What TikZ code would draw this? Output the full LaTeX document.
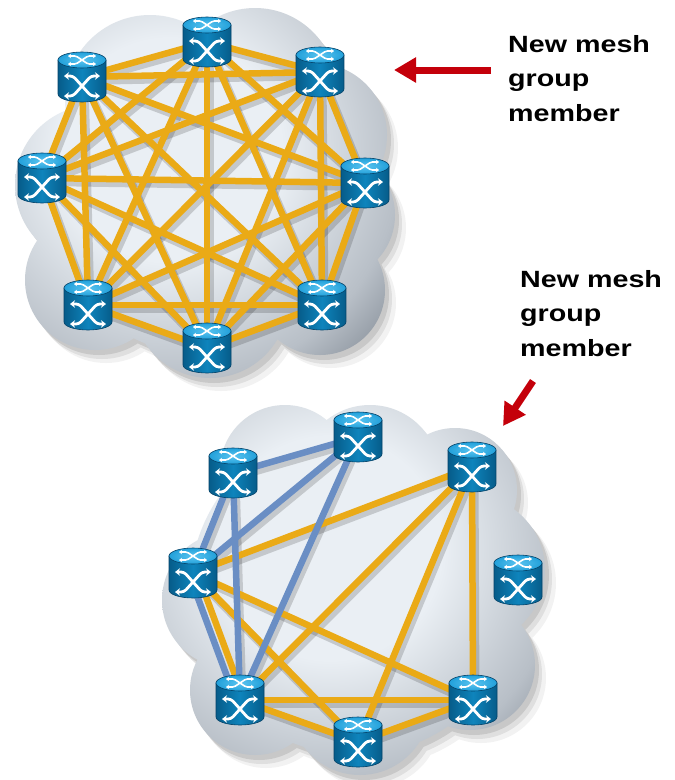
\documentclass[tikz,border=0pt]{standalone}
\usepackage{fontspec}
\setmainfont{Liberation Sans}
\usetikzlibrary{arrows.meta}

\definecolor{meshorange}{RGB}{234,170,22}
\definecolor{meshblue}{RGB}{106,142,196}
\definecolor{swtop}{RGB}{34,160,218}
\definecolor{swtoplight}{RGB}{90,196,240}
\definecolor{swmid}{RGB}{14,132,188}
\definecolor{swdark}{RGB}{6,92,138}
\definecolor{swline}{RGB}{4,66,104}
\definecolor{cloudin}{RGB}{234,239,244}
\definecolor{cloudedge}{RGB}{184,191,199}
\definecolor{clouddark}{RGB}{112,121,132}
\definecolor{arrowred}{RGB}{196,0,10}

% light upper-left, darkening towards the lower-right rim
\pgfdeclareradialshading{cloudshade}{\pgfpoint{0bp}{0bp}}{%
  color(0bp)=(cloudin); color(7bp)=(cloudin); color(14.5bp)=(cloudedge);
  color(20bp)=(clouddark); color(50bp)=(clouddark)}

% cloud outlines as unions of circles
\newcommand\cloudtop[1]{\path[#1] (205,195) circle[radius=160] (150,100) circle[radius=85]
  (255,90) circle[radius=82] (315,135) circle[radius=72] (330,215) circle[radius=65]
  (320,290) circle[radius=65] (95,185) circle[radius=80] (95,280) circle[radius=70]
  (210,300) circle[radius=78];}
\newcommand\cloudbottom[1]{\path[#1] (355,590) circle[radius=165] (285,470) circle[radius=65]
  (370,475) circle[radius=70] (455,490) circle[radius=62] (470,570) circle[radius=75]
  (470,665) circle[radius=65] (230,600) circle[radius=68] (255,690) circle[radius=65]
  (360,705) circle[radius=70];}

\tikzset{
  meshline/.style={line width=6.5pt, color=meshorange},
  blueline/.style={line width=6.5pt, color=meshblue},
  lshadow/.style={line width=8pt, black, opacity=0.16, transform canvas={shift={(2.5pt,-4pt)}}},
  wx/.style={white, line width=2.8pt, rounded corners=3pt, {Stealth[length=5pt,width=7.5pt]}-{Stealth[length=5pt,width=7.5pt]}},
  wxs/.style={white, line width=1.6pt, rounded corners=1.5pt, {Stealth[length=3pt,width=4.5pt]}-{Stealth[length=3pt,width=4.5pt]}},
  redarrow/.style={arrowred, line width=7pt, -{Triangle[length=22pt,width=24pt]}},
  label/.style={anchor=base west, inner sep=0pt, font=\fontsize{23.5}{34.5}\selectfont\bfseries},
  pics/xswitch/.style={code={
    % cylinder body
    \shadedraw[left color=swdark, right color=swdark, middle color=swmid, draw=swline, line width=0.6pt]
      (-24,-17) -- (-24,17) arc[start angle=180, end angle=0, x radius=24, y radius=8] -- (24,-17) -- cycle;
    % top face
    \shadedraw[inner color=swtoplight, outer color=swtop, draw=swline, line width=0.6pt]
      (0,-17) ellipse[x radius=24, y radius=8];
    % crossing arrows on the body
    \draw[wx] (-18,-1) -- (-9,-1) -- (9,19) -- (18,19);
    \draw[wx] (18,-1) -- (9,-1) -- (-9,19) -- (-18,19);
    % crossing arrows on the top face
    \draw[wxs] (-14,-21) -- (-6,-21) -- (6,-13) -- (14,-13);
    \draw[wxs] (14,-21) -- (6,-21) -- (-6,-13) -- (-14,-13);
  }}
}

\begin{document}
\begin{tikzpicture}[x=1pt,y=-1pt]
\useasboundingbox (0,0) rectangle (675,780);
\fill[white] (0,0) rectangle (675,780);

% ---- upper cloud: soft drop shadow and shaded body ----
\cloudtop{fill=black, opacity=0.05, shift={(11,13)}}
\cloudtop{fill=black, opacity=0.08, shift={(7,9)}}
\cloudtop{fill=black, opacity=0.10, shift={(4,5)}}
\begin{scope}
  \cloudtop{clip}
  \shade[shading=cloudshade] (170,150) circle[radius=400];
\end{scope}

% ---- lower cloud ----
\cloudbottom{fill=black, opacity=0.05, shift={(11,13)}}
\cloudbottom{fill=black, opacity=0.08, shift={(7,9)}}
\cloudbottom{fill=black, opacity=0.10, shift={(4,5)}}
\begin{scope}
  \cloudbottom{clip}
  \shade[shading=cloudshade] (330,548) circle[radius=400];
\end{scope}

% ---- switch positions ----
\coordinate (t1) at (207,42);
\coordinate (t2) at (320,72);
\coordinate (t3) at (82,77);
\coordinate (t4) at (42,178);
\coordinate (t5) at (365,183);
\coordinate (t6) at (88,305);
\coordinate (t7) at (322,305);
\coordinate (t8) at (207,348);

\coordinate (a) at (358,437);
\coordinate (b) at (233,473);
\coordinate (c) at (472,467);
\coordinate (d) at (193,573);
\coordinate (e) at (518,580);
\coordinate (f) at (240,700);
\coordinate (g) at (473,700);
\coordinate (h) at (358,742);

% ---- full mesh of the upper group ----
\foreach \i [evaluate=\i as \n using int(\i+1)] in {1,...,7}
  \foreach \j in {\n,...,8}
    \draw[lshadow] (t\i) -- (t\j);
\foreach \i [evaluate=\i as \n using int(\i+1)] in {1,...,7}
  \foreach \j in {\n,...,8}
    \draw[meshline] (t\i) -- (t\j);

% ---- two overlapping mesh groups below ----
\foreach \p/\q in {c/d,c/f,c/g,c/h,d/g,d/h,f/g,f/h,g/h,a/b,a/d,a/f,b/d,b/f}
  \draw[lshadow] (\p) -- (\q);
\foreach \p/\q in {c/d,c/f,c/g,c/h,d/g,d/h,f/g,f/h,g/h}
  \draw[meshline] (\p) -- (\q);
\draw[meshline, transform canvas={shift={(3.8pt,1.4pt)}}] (d) -- (f);
\foreach \p/\q in {a/b,a/d,a/f,b/d,b/f}
  \draw[blueline] (\p) -- (\q);
\draw[blueline, transform canvas={shift={(-3.8pt,-1.4pt)}}] (d) -- (f);

% ---- switches ----
\foreach \s in {t1,t2,t3,t4,t5,t6,t7,t8,a,b,c,d,e,f,g,h}
  \pic at (\s) {xswitch};

% ---- callouts ----
\coordinate (r1s) at (491,70);
\coordinate (r1e) at (394,70);
\draw[redarrow] (r1s) -- (r1e);
\coordinate (r2s) at (533,381);
\coordinate (r2e) at (503,426);
\draw[redarrow] (r2s) -- (r2e);

\node[label] (lab1) at (508,52) {\scalebox{1.22}[1]{\begin{tabular}[t]{@{}l@{}}New mesh\\group\\member\end{tabular}}};
\node[label] (lab2) at (520,287) {\scalebox{1.22}[1]{\begin{tabular}[t]{@{}l@{}}New mesh\\group\\member\end{tabular}}};
\end{tikzpicture}
\end{document}
